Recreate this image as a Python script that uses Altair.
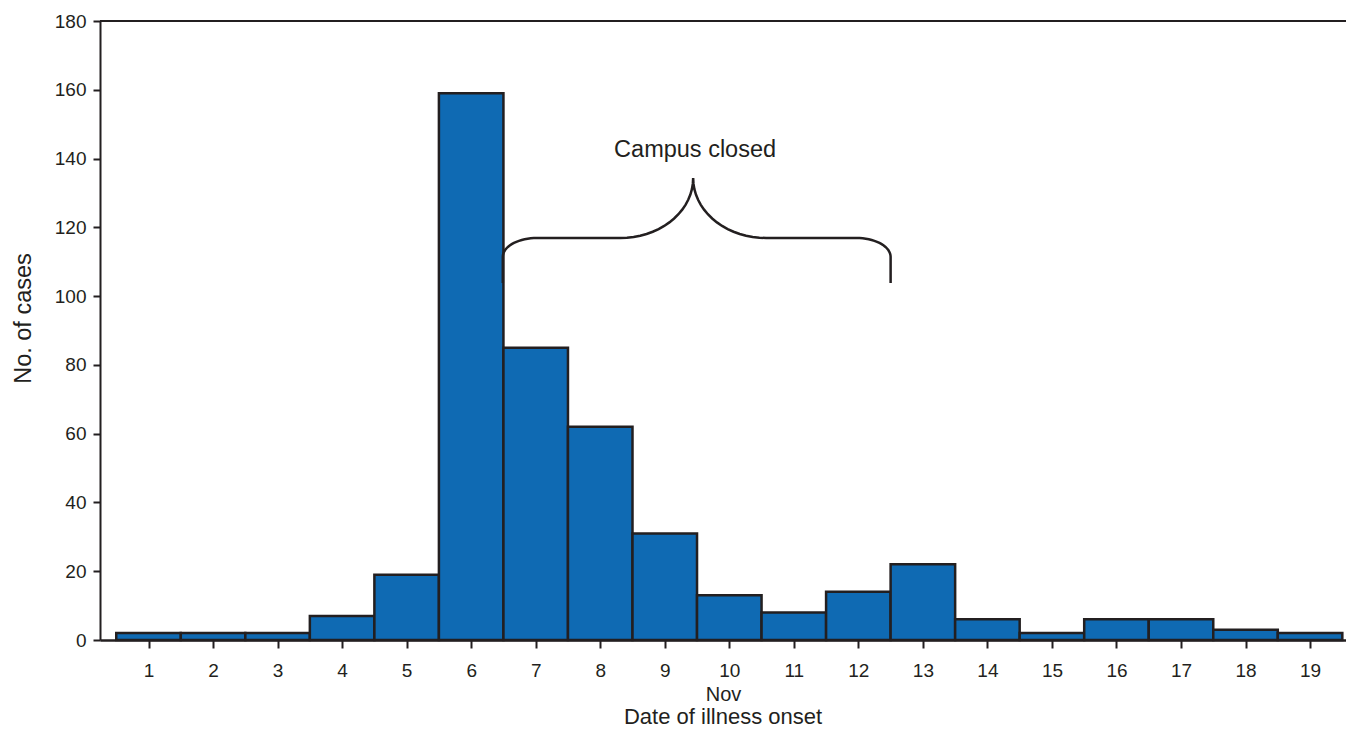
import altair as alt
import numpy as np
import pandas as pd

# ---- data ----
days = list(range(1, 20))
cases = [2, 2, 2, 7, 19, 159, 85, 62, 31, 13, 8, 14, 22, 6, 2, 6, 6, 3, 2]
x_ticks = list(range(1, 20))
y_ticks = list(range(0, 181, 20))

annotation_text = ["Campus closed"]
annotation_x = [9.47]
annotation_y = [140.4]

# brace annotation anchors (data units)
BRACE_LEFT = 6.49
BRACE_RIGHT = 12.50
BRACE_TIP_X = 9.44
BRACE_BASE = 103.8
BRACE_ARM = 116.9
BRACE_TIP_Y = 134.3
CORNER_RX, CORNER_RY = 0.53, 5.5
TIP_RX = 1.13

FONT = "Liberation Sans"
INK = "#231f20"
BLUE = "#0f6ab3"

bars = pd.DataFrame({"day": days, "cases": cases})
bars["start"] = bars["day"] - 0.5
bars["end"] = bars["day"] + 0.5


def brace_half(end_x):
    d = 1 if end_x > BRACE_TIP_X else -1
    pts = [(end_x, BRACE_BASE)]
    t = np.linspace(0, np.pi / 2, 18)
    cx, cy = end_x - d * CORNER_RX, BRACE_ARM - CORNER_RY
    pts += list(zip(cx + d * CORNER_RX * np.cos(t), cy + CORNER_RY * np.sin(t)))
    cx, cy = BRACE_TIP_X + d * TIP_RX, BRACE_TIP_Y
    pts += list(zip(cx - d * TIP_RX * np.sin(t), cy - (BRACE_TIP_Y - BRACE_ARM) * np.cos(t)))
    return pts


path = brace_half(BRACE_LEFT) + brace_half(BRACE_RIGHT)[::-1]
brace = pd.DataFrame({"x": [p[0] for p in path], "y": [p[1] for p in path],
                      "o": list(range(len(path)))})

notes = pd.DataFrame({"text": annotation_text, "x": annotation_x, "y": annotation_y})

xscale = alt.Scale(domain=[0.248, 19.557], nice=False, zero=False)
yscale = alt.Scale(domain=[0, 180], nice=False)

xaxis = alt.Axis(values=x_ticks, format="d", title="Nov", grid=False, labelFontSize=19,
                 labelFont=FONT, labelColor=INK, tickSize=8, tickWidth=2,
                 tickColor=INK, domainColor=INK, domainWidth=2.5,
                 labelPadding=13, titleFont=FONT, titleFontSize=20,
                 titleFontWeight="normal", titleColor=INK,
                 titleY=60, titleBaseline="alphabetic")
yaxis = alt.Axis(values=y_ticks, format="d", title="No. of cases", grid=False, labelFontSize=19,
                 labelFont=FONT, labelColor=INK, tickSize=7, tickWidth=2,
                 tickColor=INK, domainColor=INK, domainWidth=2,
                 labelPadding=7, titleFont=FONT, titleFontSize=23.5,
                 titleFontWeight="normal", titleColor=INK,
                 titleX=-77, titleY=297, titleBaseline="middle", titleAngle=270)

bar_layer = alt.Chart(bars).mark_bar(color=BLUE, stroke=INK, strokeWidth=2.5).encode(
    x=alt.X("start:Q", scale=xscale, axis=xaxis),
    x2="end:Q",
    y=alt.Y("cases:Q", scale=yscale, axis=yaxis),
    y2=alt.datum(0),
)

brace_layer = alt.Chart(brace).mark_line(color=INK, strokeWidth=2.5).encode(
    x=alt.X("x:Q", scale=xscale),
    y=alt.Y("y:Q", scale=yscale),
    order="o:Q",
)

text_layer = alt.Chart(notes).mark_text(font=FONT, fontSize=23.5, color=INK,
                                        baseline="alphabetic", align="center").encode(
    x=alt.X("x:Q", scale=xscale),
    y=alt.Y("y:Q", scale=yscale),
    text="text:N",
)

top_rule = alt.Chart(pd.DataFrame({"y": [180]})).mark_rule(color=INK, strokeWidth=2).encode(
    y=alt.Y("y:Q", scale=yscale),
)

chart = alt.layer(bar_layer, brace_layer, text_layer, top_rule).properties(
    width=1246,
    height=619,
    autosize=alt.AutoSizeParams(type="none"),
    padding={"left": 92, "top": 13, "right": 0, "bottom": 90},
    title=alt.TitleParams("Date of illness onset", orient="bottom", anchor="middle",
                          font=FONT, fontSize=22, fontWeight="normal", color=INK,
                          offset=3),
).configure_view(stroke="#9a9a9a", strokeWidth=1).configure(background="white")

chart.save("out.html", embed_options={"renderer": "svg", "actions": False})
